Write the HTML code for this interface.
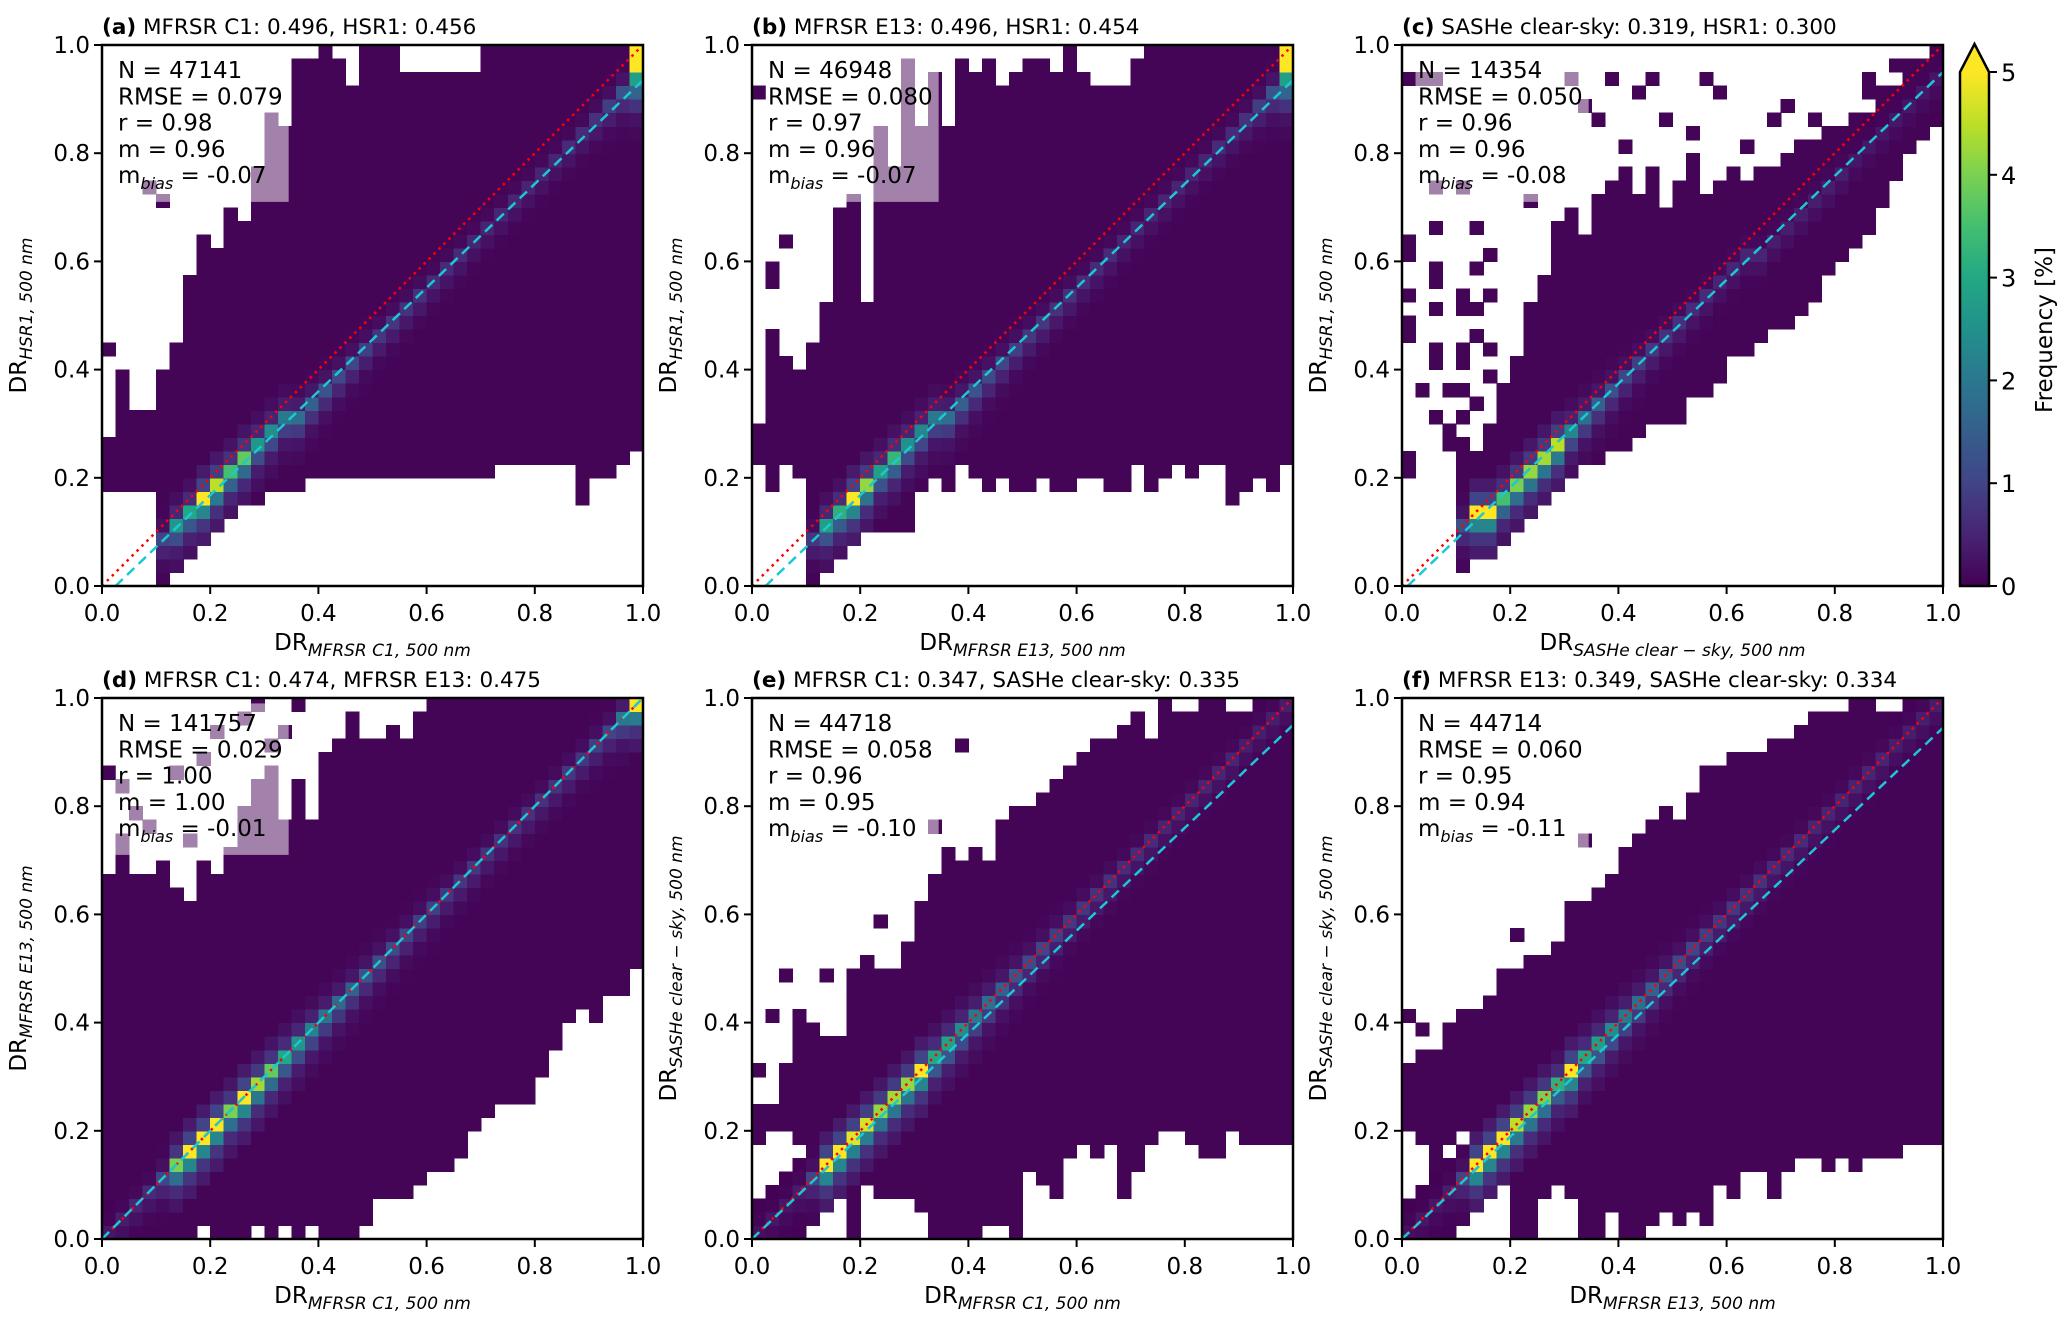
<!DOCTYPE html>
<html><head><meta charset="utf-8"><style>
html,body{margin:0;padding:0;background:#fff;}
svg{display:block;font-family:"DejaVu Sans","Liberation Sans",sans-serif;}
</style></head><body>
<svg id="fig" width="2067" height="1328" viewBox="0 0 2067 1328" xmlns="http://www.w3.org/2000/svg">
<defs>
<linearGradient id="vir" x1="0" y1="1" x2="0" y2="0">
<stop offset="0" stop-color="#440154"/><stop offset="0.1" stop-color="#482475"/><stop offset="0.2" stop-color="#414487"/><stop offset="0.3" stop-color="#355f8d"/><stop offset="0.4" stop-color="#2a788e"/><stop offset="0.5" stop-color="#21918c"/><stop offset="0.6" stop-color="#22a884"/><stop offset="0.7" stop-color="#44bf70"/><stop offset="0.8" stop-color="#7ad151"/><stop offset="0.9" stop-color="#bddf26"/><stop offset="1" stop-color="#fde725"/>
</linearGradient>
</defs>
</svg>
<script>
// ---- data ----
const xTicks = [0.0,0.2,0.4,0.6,0.8,1.0];
const tickLabels = ["0.0","0.2","0.4","0.6","0.8","1.0"];
const cbarTicks = [0,1,2,3,4,5];

const loA = [7,7,7,7,5,5,4,4,5,6,6,6,7,7,7,8,8,8,8,8,8,8,8,8,8,8,8,8,8,9,9,9,9,9,9,6,8,8,9,10];
const hiA = [10,15,12,12,15,17,22,25,24,27,26,30,34,33,38,38,39,38,36,39,39,39,37,37,37,37,37,37,39,39,39,39,39,39,39,39,39,39,39,39];
const diagA = [0,0,0,0,1.0,2.6,3.0,5.0,4.5,3.5,3.8,2.6,2.4,2.0,1.8,1.5,1.3,1.1,1.0,0.9,0.8,0.8,0.7,0.7,0.6,0.6,0.6,0.5,0.5,0.5,0.5,0.5,0.5,0.5,0.6,0.6,0.7,0.9,1.3,1.6];
const peaksA = [[39,39,5],[39,38,5],[39,37,2.8],[39,36,1.5]];
const scatterA = [[0,17],[3,29],[4,28],[1,13]];

const loB = [9,7,9,8,6,4,4,4,4,4,4,4,7,8,7,9,8,7,8,7,7,8,7,7,8,8,7,7,9,7,8,9,8,9,9,6,7,8,7,9];
const hiB = [11,18,16,15,17,20,27,28,20,33,30,38,33,37,33,38,37,38,36,37,38,38,37,39,37,36,36,36,38,39,39,39,39,39,39,39,39,39,39,39];
const diagB = [0,0,0,0,0.8,2.8,3.2,5.0,4.2,2.8,3.3,2.5,2.3,2.0,1.8,1.5,1.3,1.1,1.0,0.9,0.8,0.8,0.7,0.7,0.6,0.6,0.6,0.5,0.5,0.5,0.5,0.5,0.5,0.5,0.6,0.6,0.7,0.9,1.3,1.6];
const peaksB = [[39,39,5],[39,38,5],[39,37,2.8],[39,36,1.5]];
const scatterB = [[0,36],[1,23],[1,22],[2,25]];

const loC = [-1,-1,-1,-1,4,4,5,6,6,7,7,8,8,9,9,10,10,11,12,12,12,14,14,15,17,17,18,19,19,20,21,23,24,25,26,28,30,32,33,35];
const hiC = [-1,-1,-1,-1,10,9,11,14,16,20,22,26,27,25,28,29,30,28,30,27,29,31,28,29,30,29,30,30,31,32,32,33,33,34,33,35,35,37,37,37];
const diagC = [0,0,0,0,1.2,5,5,3.5,4,4.2,4.3,4.5,2.3,1.8,1.5,1.2,1.0,0.9,0.8,0.7,0.7,0.6,0.6,0.5,0.5,0.5,0.5,0.4,0.4,0.4,0.4,0.4,0.4,0.3,0.3,0.3,0.3,0.3,0.3,0.3];
const peaksC = [];
const scatterC = [[0,8],[0,9],[0,18],[0,19],[0,21],[0,24],[0,25],[0,37],[1,37],[2,37],[1,14],[2,12],[2,16],[2,17],[2,20],[2,22],[2,23],[2,26],[2,29],[3,10],[3,11],[3,14],[4,12],[4,14],[4,16],[4,17],[4,20],[4,21],[4,29],[5,13],[5,18],[5,20],[5,23],[5,26],[6,15],[6,17],[6,21],[6,24],[9,28],[12,37],[13,35],[15,37],[14,34],[16,32],[17,36],[18,37],[19,34],[21,33],[22,37],[23,36],[24,30],[25,32],[27,34],[28,35],[30,34],[31,33],[34,36],[34,37],[35,36],[36,38],[37,38],[38,38],[36,35],[39,37]];

const loD = [3,2,1,0,0,0,0,1,0,0,0,1,0,1,0,1,0,0,0,1,3,3,3,4,5,5,6,8,9,10,10,10,12,14,16,17,16,18,18,20];
const hiD = [26,29,26,26,27,25,24,27,26,28,31,33,34,30,33,30,35,36,38,36,36,37,36,38,39,39,39,39,39,39,39,39,39,39,39,39,39,39,39,39];
const diagD = [0.3,0.4,0.5,0.6,1.0,4.0,5,5,5,4,5,4.3,3.8,3.0,2.6,2.2,1.9,1.7,1.5,1.3,1.2,1.1,1.0,0.9,0.9,0.8,0.8,0.8,0.7,0.7,0.7,0.7,0.7,0.7,0.8,0.8,0.9,1.0,1.8,4.6];
const peaksD = [[39,39,5],[38,38,2]];
const scatterD = [[0,34],[1,33],[2,31],[5,34],[7,35],[8,37],[10,38],[11,39],[12,36],[13,37],[14,39],[3,30],[6,29]];

const loE = [7,8,8,7,6,5,6,0,4,3,3,3,2,0,0,0,0,1,1,0,5,4,3,6,7,6,7,3,5,7,8,8,7,6,6,8,7,7,7,7];
const hiE = [9,9,12,16,15,14,14,19,20,19,19,21,24,26,28,27,28,27,30,31,31,32,33,34,35,36,36,37,38,36,39,38,38,39,39,38,37,37,38,39];
const diagE = [0.2,0.3,0.3,0.4,1.0,5,5,4.8,4.7,4.2,4.3,4.2,5,3.0,2.9,2.4,2.0,1.8,1.5,1.3,1.1,1.0,0.9,0.8,0.8,0.7,0.7,0.6,0.6,0.6,0.5,0.5,0.5,0.5,0.5,0.5,0.4,0.4,0.4,0.4];
const peaksE = [];
const scatterE = [[0,12],[2,19],[1,16],[5,19],[9,23],[18,24],[23,28],[13,30],[15,36]];

const loF = [8,7,5,7,8,6,6,4,0,0,3,4,3,0,0,2,0,0,1,2,1,2,1,4,3,5,5,3,5,6,6,5,6,5,6,6,6,7,7,7];
const hiF = [12,13,13,15,16,15,17,19,19,20,20,21,24,24,25,26,28,29,30,31,30,32,33,34,35,35,35,36,36,37,38,38,38,39,39,38,37,38,39,39];
const diagF = [0.2,0.3,0.3,0.4,1.0,5,5,5,4.5,4.2,4.0,3.2,5,3.0,2.8,2.4,2.0,1.8,1.5,1.3,1.1,1.0,0.9,0.8,0.8,0.7,0.7,0.6,0.6,0.6,0.5,0.5,0.5,0.5,0.5,0.5,0.4,0.4,0.4,0.4];
const peaksF = [];
const scatterF = [[0,16],[1,15],[5,16],[8,22],[13,29],[21,30],[22,34],[23,33]];

// ---- layout / rendering ----
const NS = "http://www.w3.org/2000/svg";
const svg = document.getElementById('fig');
const S = 541, NB = 40, BW = S/NB;
const VIR = ["#440154","#482475","#414487","#355f8d","#2a788e","#21918c","#22a884","#44bf70","#7ad151","#bddf26","#fde725"];
function hex(c){return [parseInt(c.substr(1,2),16),parseInt(c.substr(3,2),16),parseInt(c.substr(5,2),16)];}
function viridis(t){t=Math.max(0,Math.min(1,t));const p=t*10,i=Math.min(9,Math.floor(p)),f=p-i;const a=hex(VIR[i]),b=hex(VIR[i+1]);return "rgb("+a.map((v,k)=>Math.round(v+(b[k]-v)*f)).join(",")+")";}
function mk(tag,attrs,parent){const e=document.createElementNS(NS,tag);for(const k in attrs)e.setAttribute(k,attrs[k]);(parent||svg).appendChild(e);return e;}

const panels = [
 {id:"a",L:102,T:45,lo:loA,hi:hiA,diag:diagA,peaks:peaksA,scat:scatterA,dm:0.96,db:-0.024,cm:0.959,cb:-0.024,
  title:"MFRSR C1: 0.496, HSR1: 0.456",xs:"MFRSR C1, 500 nm",ys:"HSR1, 500 nm",st:["N = 47141","RMSE = 0.079","r = 0.98","m = 0.96","-0.07"]},
 {id:"b",L:752,T:45,lo:loB,hi:hiB,diag:diagB,peaks:peaksB,scat:scatterB,dm:0.96,db:-0.024,cm:0.959,cb:-0.024,
  title:"MFRSR E13: 0.496, HSR1: 0.454",xs:"MFRSR E13, 500 nm",ys:"HSR1, 500 nm",st:["N = 46948","RMSE = 0.080","r = 0.97","m = 0.96","-0.07"]},
 {id:"c",L:1402,T:45,lo:loC,hi:hiC,diag:diagC,peaks:peaksC,scat:scatterC,dm:0.95,db:-0.005,cm:0.96,cb:-0.01,
  title:"SASHe clear-sky: 0.319, HSR1: 0.300",xs:"SASHe clear − sky, 500 nm",ys:"HSR1, 500 nm",st:["N = 14354","RMSE = 0.050","r = 0.96","m = 0.96","-0.08"]},
 {id:"d",L:102,T:698,lo:loD,hi:hiD,diag:diagD,peaks:peaksD,scat:scatterD,dm:1,db:0,cm:1,cb:0,
  title:"MFRSR C1: 0.474, MFRSR E13: 0.475",xs:"MFRSR C1, 500 nm",ys:"MFRSR E13, 500 nm",st:["N = 141757","RMSE = 0.029","r = 1.00","m = 1.00","-0.01"]},
 {id:"e",L:752,T:698,lo:loE,hi:hiE,diag:diagE,peaks:peaksE,scat:scatterE,dm:1,db:0,cm:0.95,cb:0,
  title:"MFRSR C1: 0.347, SASHe clear-sky: 0.335",xs:"MFRSR C1, 500 nm",ys:"SASHe clear − sky, 500 nm",st:["N = 44718","RMSE = 0.058","r = 0.96","m = 0.95","-0.10"]},
 {id:"f",L:1402,T:698,lo:loF,hi:hiF,diag:diagF,peaks:peaksF,scat:scatterF,dm:1,db:0,cm:0.945,cb:0,
  title:"MFRSR E13: 0.349, SASHe clear-sky: 0.334",xs:"MFRSR E13, 500 nm",ys:"SASHe clear − sky, 500 nm",st:["N = 44714","RMSE = 0.060","r = 0.95","m = 0.94","-0.11"]}
];

panels.forEach(p=>{
  const g = mk('g',{});
  
  
  const X = v => p.L + v*S, Y = v => p.T + S - v*S;
  const grid = []; for(let i=0;i<NB;i++){grid.push(new Array(NB).fill(null));}
  for(let i=0;i<NB;i++){ if(p.lo[i]>=0) for(let j=p.lo[i];j<=p.hi[i];j++) grid[i][j]=0.05; }
  p.scat.forEach(([i,j])=>{ grid[i][j]=0.05; });
  for(let i=0;i<NB;i++){
    const v=p.diag[i]; if(!v) continue;
    const xc=(i+0.5)/NB, d=Math.min(NB-1,Math.max(0,Math.floor((p.dm*xc+p.db)*NB)));
    const put=(j,val)=>{ if(j<0||j>=NB) return; grid[i][j]=Math.max(grid[i][j]||0,val); };
    put(d,v); put(d-1,0.45*v); put(d+1,0.2*v); put(d-2,0.15*v); put(d+2,0.07*v); put(d-3,0.07*v);
  }
  p.peaks.forEach(([i,j,v])=>{ grid[i][j]=Math.max(grid[i][j]||0,v); });
  const cg = mk('g',{'shape-rendering':'crispEdges'},g);
  
  
  for(let i=0;i<NB;i++) for(let j=0;j<NB;j++){
    const v=grid[i][j]; if(v===null) continue;
    const r = mk('rect',{x:X(i/NB).toFixed(2),y:Y((j+1)/NB).toFixed(2),width:(BW+0.6).toFixed(2),height:(BW+0.6).toFixed(2),fill:viridis(v/5)},cg);
    
    
  }
  const bx = mk('rect',{x:X(0.025),y:Y(0.99),width:0.32*S,height:0.28*S,fill:'rgba(255,255,255,0.5)'},g);
  
  
  const cl = mk('clipPath',{id:'clip'+p.id},g); mk('rect',{x:p.L,y:p.T,width:S,height:S},cl);
  const rl = mk('line',{x1:X(0),y1:Y(0),x2:X(1),y2:Y(1),stroke:'#ff0000','stroke-width':2.5,'stroke-dasharray':'2.5,4.5','clip-path':'url(#clip'+p.id+')'},g);
  
  
  const x0 = Math.max(0,-p.cb/p.cm);
  const fl = mk('line',{x1:X(x0),y1:Y(p.cm*x0+p.cb),x2:X(1),y2:Y(p.cm+p.cb),stroke:'#1cc8d2','stroke-width':2.5,'stroke-dasharray':'10,6','clip-path':'url(#clip'+p.id+')'},g);
  
  
  const fr = mk('rect',{x:p.L,y:p.T,width:S,height:S,fill:'none',stroke:'#000','stroke-width':2.5},g);
  
  
  xTicks.forEach((t,k)=>{
    mk('line',{x1:X(t),y1:p.T+S,x2:X(t),y2:p.T+S+8,stroke:'#000','stroke-width':2},g);
    const tx = mk('text',{x:X(t),y:p.T+S+35,'font-size':23,'text-anchor':'middle',fill:'#000'},g);
    tx.textContent = tickLabels[k];
    
    
    mk('line',{x1:p.L-8,y1:Y(t),x2:p.L,y2:Y(t),stroke:'#000','stroke-width':2},g);
    const ty = mk('text',{x:p.L-12,y:Y(t)+8,'font-size':23,'text-anchor':'end',fill:'#000'},g);
    ty.textContent = tickLabels[k];
    
    
  });
  const tt = mk('text',{x:p.L,y:p.T-11,'font-size':21.5,fill:'#000'},g);
  tt.innerHTML = '<tspan font-weight="bold">('+p.id+')</tspan> '+p.title;
  
  
  p.st.forEach((s,k)=>{
    const t = mk('text',{x:p.L+16,y:p.T+33+k*26.3,'font-size':23,fill:'#000'},g);
    if(k<4) t.textContent=s; else t.innerHTML='m<tspan font-size="16" font-style="italic" dy="6">bias</tspan><tspan dy="-6"> = '+s+'</tspan>';
    
    
  });
  const xl = mk('text',{x:p.L+S/2,y:p.T+S+64,'font-size':23,'text-anchor':'middle',fill:'#000'},g);
  xl.innerHTML='DR<tspan font-size="17" font-style="italic" dy="6">'+p.xs+'</tspan>';
  
  
  const yl = mk('text',{x:0,y:0,'font-size':23,'text-anchor':'middle',fill:'#000',transform:'translate('+(p.L-76)+','+(p.T+S/2)+') rotate(-90)'},g);
  yl.innerHTML='DR<tspan font-size="17" font-style="italic" dy="6">'+p.ys+'</tspan>';
  
  
});

// colorbar
const cbX=1960, cbW=29, cbTop=72, cbBot=586;
const cb = mk('g',{});


mk('rect',{x:cbX,y:cbTop,width:cbW,height:cbBot-cbTop,fill:'url(#vir)'},cb);
mk('polygon',{points:cbX+','+cbTop+' '+(cbX+cbW/2)+',44 '+(cbX+cbW)+','+cbTop,fill:'#fde725'},cb);
mk('polygon',{points:cbX+','+cbBot+' '+cbX+','+cbTop+' '+(cbX+cbW/2)+',44 '+(cbX+cbW)+','+cbTop+' '+(cbX+cbW)+','+cbBot,fill:'none',stroke:'#000','stroke-width':2.5},cb);
cbarTicks.forEach(v=>{
  const y = cbBot - v/5*(cbBot-cbTop);
  mk('line',{x1:cbX+cbW,y1:y,x2:cbX+cbW+8,y2:y,stroke:'#000','stroke-width':2},cb);
  const t = mk('text',{x:cbX+cbW+12,y:y+9,'font-size':24,fill:'#000'},cb);
  t.textContent=String(v);
  
  
});
const cl = mk('text',{x:0,y:0,'font-size':23,'text-anchor':'middle',fill:'#000',transform:'translate(2052,330) rotate(-90)'},cb);
cl.textContent='Frequency [%]';


</script>
</body></html>
